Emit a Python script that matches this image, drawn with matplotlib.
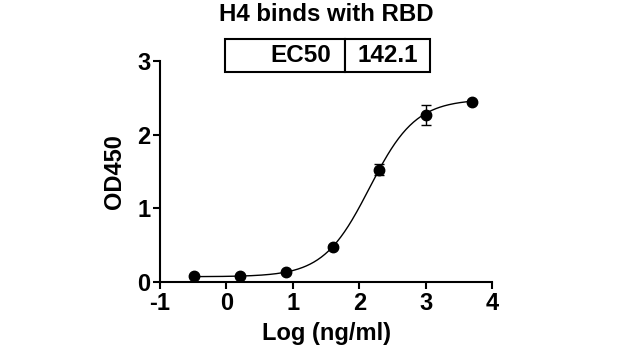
import numpy as np
import matplotlib
matplotlib.use("Agg")
import matplotlib.pyplot as plt

# data (log ng/ml vs OD450)
log_conc = [-0.495, 0.204, 0.903, 1.602, 2.301, 3.000, 3.699]
od450 = [0.075, 0.085, 0.13, 0.48, 1.52, 2.27, 2.44]
od_err = [0.01, 0.01, 0.01, 0.02, 0.075, 0.135, 0.01]

# 4PL fit parameters
bottom = 0.07
top = 2.48
ec50 = 142.1
hill = 1.25

plt.rcParams['font.family'] = ['Liberation Sans', 'DejaVu Sans']
plt.rcParams['font.weight'] = 'bold'
plt.rcParams['axes.unicode_minus'] = False

fig = plt.figure(figsize=(6.2, 3.6), dpi=100)
ax = fig.add_axes([0.258, 0.217, 0.536, 0.614])

xfit = np.linspace(min(log_conc), max(log_conc), 300)
yfit = bottom + (top - bottom) / (1 + 10 ** ((np.log10(ec50) - xfit) * hill))
ax.plot(xfit, yfit, color='black', lw=1.0)
ax.errorbar(log_conc, od450, yerr=od_err, fmt='o', color='black', ms=7.5,
            capsize=3.5, elinewidth=1.0, capthick=1.0, clip_on=False)

ax.set_xlim(-1, 4)
ax.set_ylim(0, 3)
ax.set_xticks([-1, 0, 1, 2, 3, 4])
ax.set_yticks([0, 1, 2, 3])
for s in ['top', 'right']:
    ax.spines[s].set_visible(False)
for s in ['left', 'bottom']:
    ax.spines[s].set_linewidth(1.5)
ax.tick_params(width=1.5, length=5, labelsize=17, pad=2)
for lab in ax.get_xticklabels() + ax.get_yticklabels():
    lab.set_fontweight('bold')

ax.set_xlabel("Log (ng/ml)", fontsize=17, fontweight='bold', labelpad=5)
ax.set_ylabel("OD450", fontsize=17, fontweight='bold', labelpad=8)
fig.text(0.526, 1 - 21 / 360, "H4 binds with RBD", fontsize=17.3,
         fontweight='bold', ha='center', va='baseline')

tbl = ax.table(cellText=[["EC50", "142.1"]], colWidths=[0.585, 0.415],
               bbox=[0.196, 0.95, 0.617, 0.15])
tbl.auto_set_font_size(False)
for (r, c), cell in tbl.get_celld().items():
    cell.set_linewidth(1.5)
    cell.get_text().set_fontsize(17.5)
    cell.get_text().set_fontweight('bold')
    cell.set_text_props(ha='right' if c == 0 else 'center')
    cell.PAD = 0.12

fig.savefig("out.png", dpi=100)
